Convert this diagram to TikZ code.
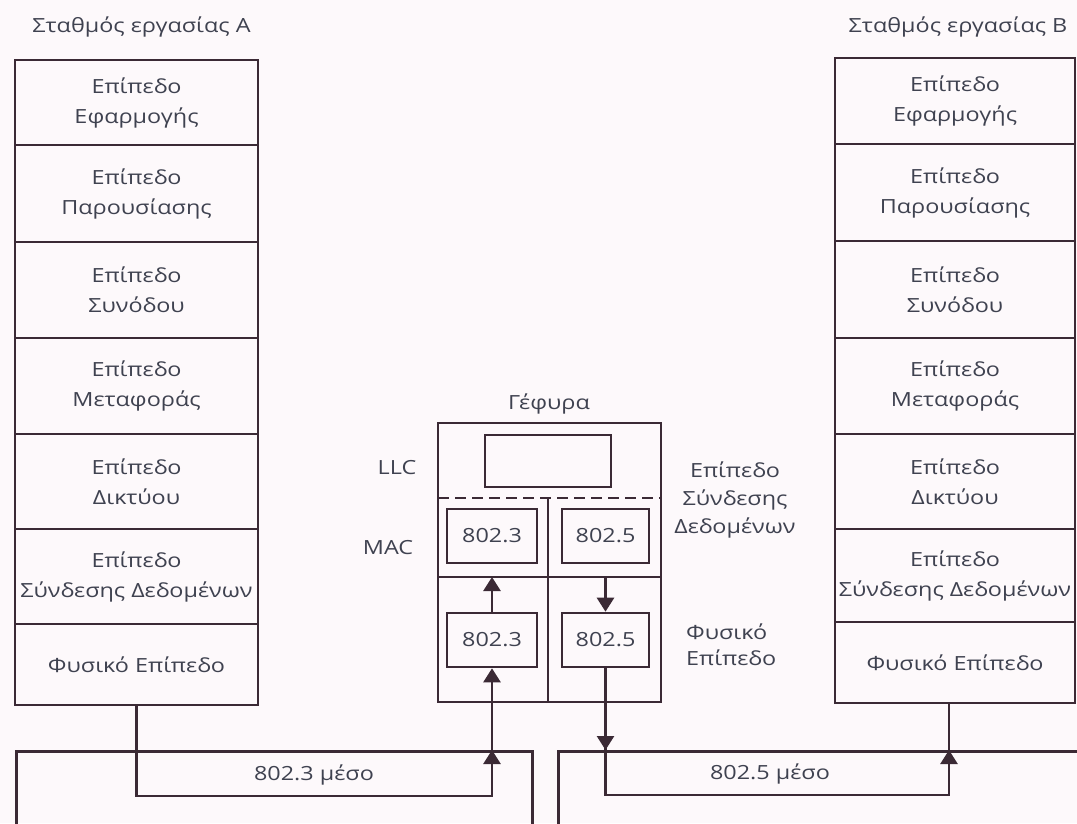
\documentclass[tikz,border=0pt]{standalone}
\usepackage{fontspec}
\setmainfont{Open Sans}[FakeStretch=1.2]
\usetikzlibrary{arrows.meta,calc}
\definecolor{ink}{HTML}{3B2A35}
\definecolor{txt}{HTML}{3F4250}
\definecolor{paper}{HTML}{FDF9FB}
\begin{document}
\begin{tikzpicture}[x=1pt,y=-1pt,
  wire/.style={draw=ink,line width=2.6pt},
  box/.style={draw=ink,line width=2.6pt,rectangle,inner sep=0pt,align=center,
    text=txt,font=\fontsize{19.5}{30}\selectfont},
  lbl/.style={text=txt,inner sep=0pt,font=\fontsize{19.5}{28}\selectfont},
  tip/.style={-{Triangle[length=14pt,width=17pt]}},
  mac/.style={dash pattern=on 11pt off 6pt}]
\fill[paper] (0,0) rectangle (1077,823);
\useasboundingbox (0,0) rectangle (1077,823);
\clip (0,0) rectangle (1077,823);

% station A
\node[lbl] (ta) at (141.5,27) {Σταθμός εργασίας A};
\begin{scope}[every node/.style={box,minimum width=243pt}]
\node[minimum height=85pt] (a1) at (136.5,102.5) {Επίπεδο\\Εφαρμογής};
\node[minimum height=97pt] (a2) at (136.5,193.5) {Επίπεδο\\Παρουσίασης};
\node[minimum height=96pt] (a3) at (136.5,290) {Επίπεδο\\Συνόδου};
\node[minimum height=96pt] (a4) at (136.5,386) {Επίπεδο\\Μεταφοράς};
\node[minimum height=95pt] (a5) at (136.5,481.5) {Επίπεδο\\Δικτύου};
\node[minimum height=95pt] (a6) at (136.5,576.5) {Επίπεδο\\Σύνδεσης Δεδομένων};
\node[minimum height=81pt] (a7) at (136.5,664.5) {Φυσικό Επίπεδο};
\end{scope}

% station B
\node[lbl] (tb) at (958,27) {Σταθμός εργασίας B};
\begin{scope}[every node/.style={box,minimum width=240pt}]
\node[minimum height=86pt] (b1) at (955,101) {Επίπεδο\\Εφαρμογής};
\node[minimum height=97pt] (b2) at (955,192.5) {Επίπεδο\\Παρουσίασης};
\node[minimum height=97pt] (b3) at (955,289.5) {Επίπεδο\\Συνόδου};
\node[minimum height=96pt] (b4) at (955,386) {Επίπεδο\\Μεταφοράς};
\node[minimum height=95pt] (b5) at (955,481.5) {Επίπεδο\\Δικτύου};
\node[minimum height=93pt] (b6) at (955,575.5) {Επίπεδο\\Σύνδεσης Δεδομένων};
\node[minimum height=81pt] (b7) at (955,662.5) {Φυσικό Επίπεδο};
\end{scope}

% bridge
\node[lbl] (tg) at (549,404) {Γέφυρα};
\node[box,minimum width=223pt,minimum height=279pt] (br) at (549.5,562.5) {};
\node[box,minimum width=126pt,minimum height=52pt] (llc) at (548,461) {};
\coordinate (dl) at (438,498);
\coordinate (dr) at (661,498);
\coordinate (ml) at (438,577);
\coordinate (mr) at (661,577);
\coordinate (vt) at (548,498);
\coordinate (vb) at (548,702);
\draw[wire,mac] (dl) -- (dr);
\draw[wire] (ml) -- (mr);
\draw[wire] (vt) -- (vb);
\node[box,minimum width=90pt,minimum height=54pt] (m3) at (492,536) {802.3};
\node[box,minimum width=87pt,minimum height=54pt] (m5) at (605.5,536) {802.5};
\node[box,minimum width=90pt,minimum height=54pt] (p3) at (492,640) {802.3};
\node[box,minimum width=87pt,minimum height=54pt] (p5) at (605.5,640) {802.5};
\node[lbl] (llct) at (397,468) {LLC};
\node[lbl] (mact) at (388,548) {MAC};
\node[lbl,align=center] (dll) at (735,500) {Επίπεδο\\Σύνδεσης\\Δεδομένων};
\node[lbl,align=left,anchor=west,font=\fontsize{19.5}{26}\selectfont] (phl) at (686,645) {Φυσικό\\Επίπεδο};

% media
\node[box,minimum width=516pt,minimum height=120pt,anchor=north west] (medA) at (15,750) {};
\node[box,minimum width=540pt,minimum height=120pt,anchor=north west] (medB) at (557,750) {};
\node[lbl] (mta) at (314,775) {802.3 μέσο};
\node[lbl] (mtb) at (770,774) {802.5 μέσο};
\coordinate (ya) at (0,796);
\coordinate (yb) at (0,795);
\coordinate (bx) at ([xshift=-6pt]b7.south);

% connectors inside the bridge
\draw[wire,tip] (p3.north) -- (p3.north |- ml);
\draw[wire,tip] (p5.north |- ml) -- (p5.north);

% medium 802.3
\draw[wire,tip] (a7.south) |- (p3.south |- ya) -- (p3.south);
\draw[wire,tip] ($(p3.south |- medA.north)+(0,22)$) -- (p3.south |- medA.north);

% medium 802.5
\draw[wire] (p5.south) |- (bx |- yb) -- (bx);
\draw[wire,tip] (p5.south) -- (p5.south |- medB.north);
\draw[wire,tip] ($(bx |- medB.north)+(0,22)$) -- (bx |- medB.north);
\end{tikzpicture}
\end{document}
